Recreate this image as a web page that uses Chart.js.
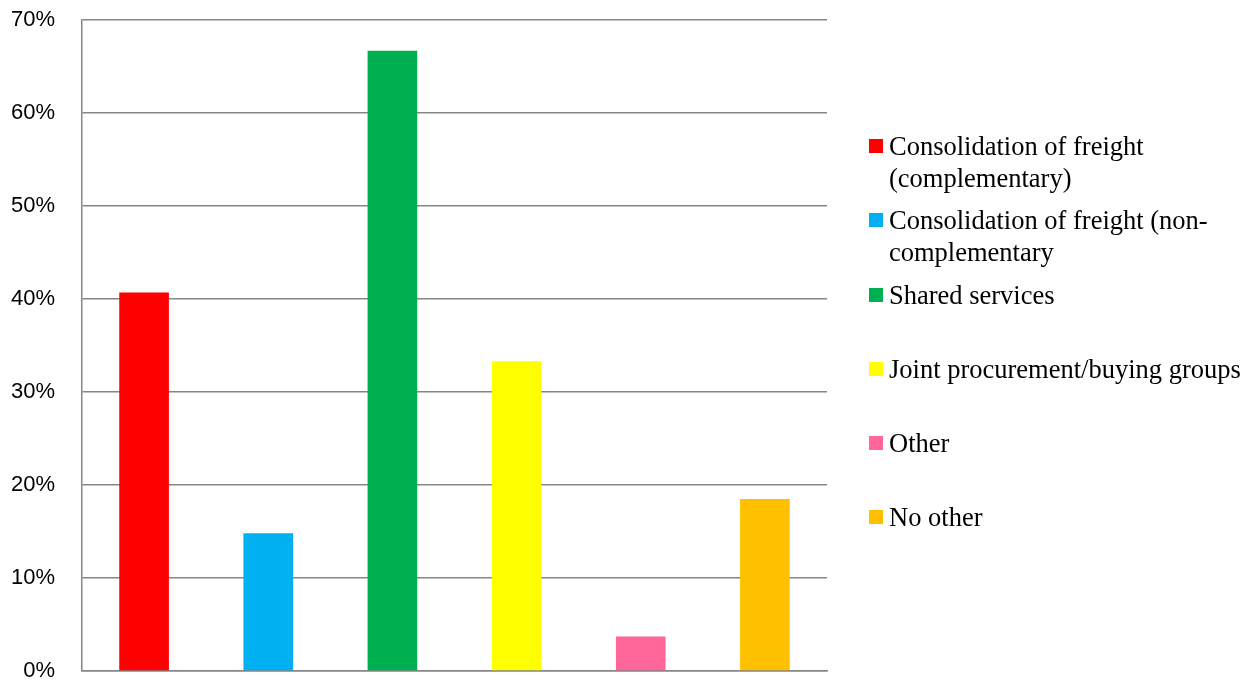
<!DOCTYPE html>
<html>
<head>
<meta charset="utf-8">
<script src="https://cdn.jsdelivr.net/npm/chart.js@4"></script>
<style>
    html, body { margin: 0; padding: 0; background: #fff; }
    #wrap { position: relative; width: 1255px; height: 682px; }
    canvas { display: block; }
    #legend { position: absolute; left: 869px; top: 130px; font-family: "Liberation Serif", "Times New Roman", serif; font-size: 26.5px; line-height: 32px; color: #000; }
    .item { position: relative; height: 74.3px; padding-left: 20px; white-space: pre-line; }
    .box { position: absolute; left: 0; top: 9px; width: 14px; height: 14px; }
</style>
</head>
<body>
<div id="wrap">
    <canvas id="myPlot" width="1255" height="682"></canvas>
    <div id="legend"></div>
</div>
<script>
// survey answers, share of respondents in percent
const categories = [
    'Consolidation of freight\n(complementary)',
    'Consolidation of freight (non-\ncomplementary',
    'Shared services',
    'Joint procurement/buying groups',
    'Other',
    'No other'
];
const shares = [40.7, 14.8, 66.7, 33.3, 3.7, 18.5];
const colors = ['#FF0000', '#00B0F0', '#00B050', '#FFFF00', '#FF6699', '#FFC000'];
const yTicks = [0, 10, 20, 30, 40, 50, 60, 70];

function displayLegend() {
    let html = ``;
    for (let i = 0; i < categories.length; i++) {
        html += `<div class="item"><span class="box" style="background:${colors[i]}"></span>${categories[i]}</div>`;
    }
    document.getElementById('legend').innerHTML = html;
}

displayLegend();

const myChart = new Chart("myPlot", {
    type: "bar",
    data: {
        labels: categories,
        datasets: [{
            data: shares,
            backgroundColor: colors,
            barPercentage: 0.4,
            categoryPercentage: 1
        }]
    },
    options: {
        responsive: false,
        animation: false,
        layout: {
            padding: { left: 0, right: 428, top: 20, bottom: 11 }
        },
        plugins: {
            legend: { display: false },
            tooltip: { enabled: false }
        },
        scales: {
            x: {
                grid: { display: false, drawTicks: false },
                ticks: { display: false },
                border: { color: '#868686', width: 1.5 }
            },
            y: {
                min: yTicks[0],
                max: yTicks[yTicks.length - 1],
                afterBuildTicks: (scale) => { scale.ticks = yTicks.map(v => ({ value: v })); },
                // fixed axis width, labels may hang into the outer padding
                afterFit: (scale) => {
                    scale.width = 82;
                    scale.paddingTop = 0;
                    scale.paddingBottom = 0;
                },
                grid: { color: '#868686', lineWidth: 1.5, drawTicks: false },
                border: { color: '#868686', width: 1.5 },
                ticks: {
                    padding: 27,
                    color: '#000',
                    font: { family: 'Liberation Sans', size: 22 },
                    callback: (v) => v + '%'
                }
            }
        }
    }
});
</script>
</body>
</html>
